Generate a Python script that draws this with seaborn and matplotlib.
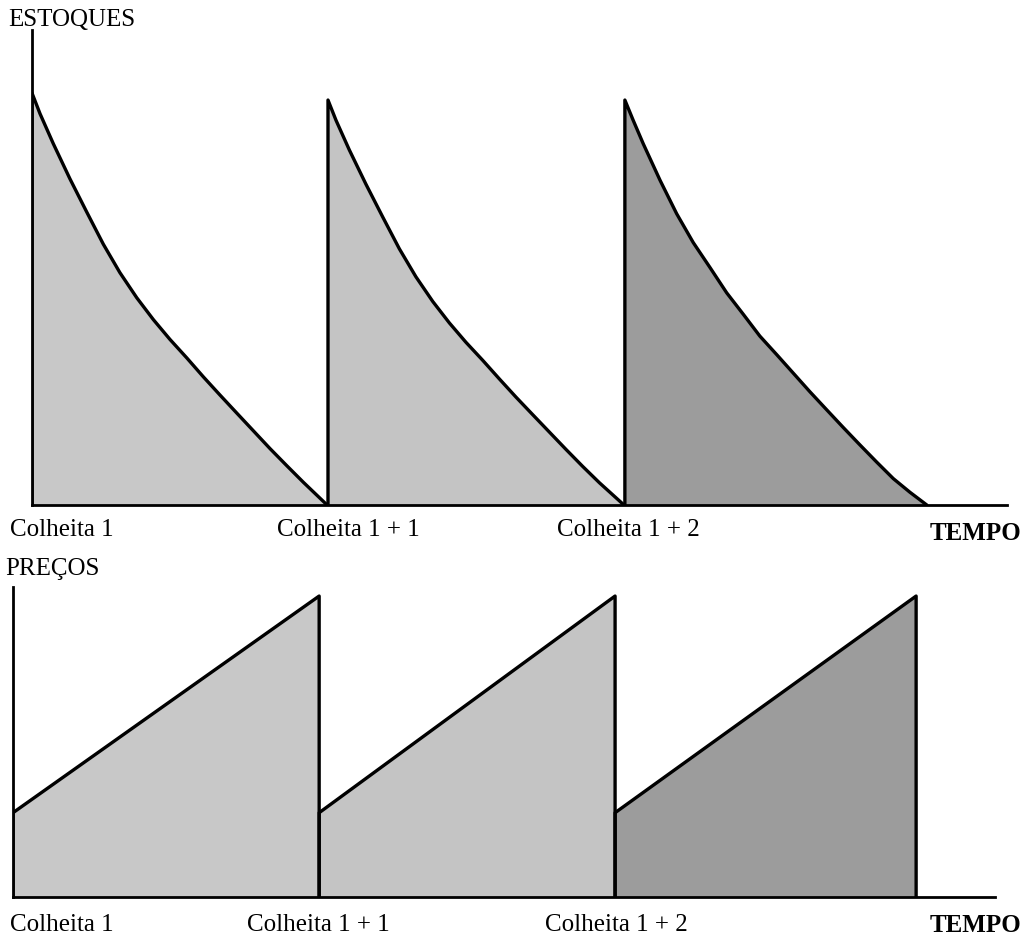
import matplotlib
matplotlib.use('Agg')
import matplotlib.pyplot as plt
import numpy as np
import seaborn as sns
import pandas as pd

# stocks (top panel): three harvest cycles, time in cycle units
stock_t1 = [0.0, 0.027, 0.072, 0.128, 0.185, 0.241, 0.297, 0.354, 0.410, 0.466,
            0.523, 0.579, 0.635, 0.692, 0.748, 0.804, 0.860, 0.917, 0.997]
stock_v1 = [1.0, 0.950, 0.877, 0.792, 0.711, 0.633, 0.564, 0.503, 0.450, 0.402,
            0.357, 0.311, 0.267, 0.223, 0.180, 0.137, 0.096, 0.055, 0.0]
stock_t2 = [1.0, 1.027, 1.072, 1.128, 1.185, 1.241, 1.297, 1.354, 1.410, 1.466,
            1.523, 1.579, 1.635, 1.692, 1.748, 1.804, 1.860, 1.917, 2.0]
stock_v2 = [0.983, 0.934, 0.862, 0.779, 0.699, 0.622, 0.554, 0.494, 0.442, 0.395,
            0.351, 0.306, 0.262, 0.219, 0.177, 0.135, 0.094, 0.054, 0.0]
stock_t3 = [2.003, 2.031, 2.065, 2.122, 2.178, 2.234, 2.291, 2.347, 2.403, 2.459,
            2.516, 2.572, 2.628, 2.685, 2.741, 2.797, 2.854, 2.910, 2.966, 3.023]
stock_v3 = [0.983, 0.934, 0.877, 0.788, 0.707, 0.637, 0.576, 0.515, 0.463, 0.410,
            0.365, 0.320, 0.275, 0.231, 0.188, 0.146, 0.104, 0.064, 0.031, 0.0]

# prices (bottom panel): linear rise inside each cycle
price_t1 = [0.0, 1.017]
price_v1 = [0.28, 1.0]
price_t2 = [1.017, 2.0]
price_v2 = [0.28, 1.0]
price_t3 = [2.0, 3.0]
price_v3 = [0.28, 1.0]

harvest_labels = ['Colheita 1', 'Colheita 1 + 1', 'Colheita 1 + 2']
shades = ['#c8c8c8', '#c4c4c4', '#9c9c9c']

sns.set_style('white')
plt.rcParams['font.family'] = ['Liberation Serif', 'DejaVu Serif']

W, H = 1025, 941
fig = plt.figure(figsize=(W / 100, H / 100), dpi=100)

def px_axes(x0, y_top, x1, y_base):
    return fig.add_axes([x0 / W, (H - y_base) / H, (x1 - x0) / W, (y_base - y_top) / H])

ax1 = px_axes(32, 30, 1007, 505)
ax2 = px_axes(13, 587, 995, 897)

# stock curves with vertical rise at harvest
for (t, v), c in zip([(stock_t1, stock_v1), (stock_t2, stock_v2), (stock_t3, stock_v3)], shades):
    ax1.fill_between(t, v, 0, color=c, lw=0, zorder=1)
    df = pd.DataFrame({'t': [t[0]] + t, 'v': [0.0] + v})
    sns.lineplot(data=df, x='t', y='v', ax=ax1, color='black', lw=2.4,
                 estimator=None, sort=False, zorder=3)
ax1.set_xlim(0, 3.294)
ax1.set_ylim(0, 1.153)

# price segments with vertical drop at the right end
for t, v, c in zip([price_t1, price_t2, price_t3], [price_v1, price_v2, price_v3], shades):
    ax2.fill_between(t, v, 0, color=c, lw=0, zorder=1)
    df = pd.DataFrame({'t': [t[0]] + t + [t[-1]], 'v': [0.0] + v + [0.0]})
    sns.lineplot(data=df, x='t', y='v', ax=ax2, color='black', lw=2.4,
                 estimator=None, sort=False, zorder=3)
ax2.set_xlim(0, 3.262)
ax2.set_ylim(0, 1.03)

for ax in (ax1, ax2):
    ax.set_xlabel('')
    ax.set_ylabel('')
    ax.set_xticks([])
    ax.set_yticks([])
    ax.patch.set_alpha(0)
    for s in ('top', 'right'):
        ax.spines[s].set_visible(False)
    for s in ('left', 'bottom'):
        ax.spines[s].set_color('black')
        ax.spines[s].set_linewidth(2.0)

def ptext(x, y, s, **kw):
    fig.text(x / W, (H - y) / H, s, ha='left', va='center', fontsize=18, color='black', **kw)

ptext(8, 20, 'ESTOQUES')
ptext(5, 569, 'PREÇOS')
for x, lab in zip([10, 277, 557], harvest_labels):
    ptext(x, 530, lab)
ptext(930, 533, 'TEMPO', fontweight='bold')
for x, lab in zip([10, 247, 545], harvest_labels):
    ptext(x, 925, lab)
ptext(930, 925, 'TEMPO', fontweight='bold')

fig.savefig('out.png', dpi=100, facecolor='white')
